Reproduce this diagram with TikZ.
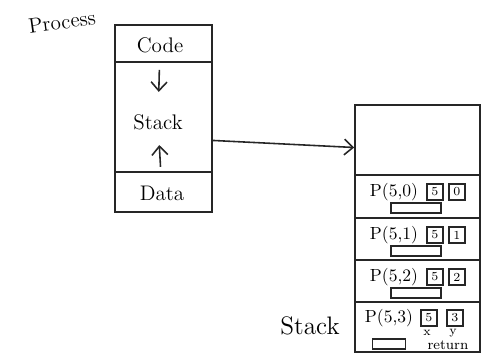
\documentclass[tikz,border=0pt]{standalone}
\usetikzlibrary{arrows.meta}

\begin{document}
\begin{tikzpicture}[x=0.02cm,y=-0.02cm,line width=0.9pt,draw=black!85,
  arr/.style={-{Straight Barb[length=5pt,width=9pt]}},
  cell/.style={draw,minimum size=9pt,inner sep=0pt,font=\scriptsize},
  slot/.style={draw,minimum width=1cm,minimum height=0.2cm,inner sep=0pt}]
\useasboundingbox (0,0) rectangle (485,361);

% process memory
\node[draw,minimum width=1.94cm,minimum height=3.74cm,inner sep=0pt] (proc) at (163.5,118.5) {};
\draw (115,62) -- (212,62);
\draw (115,172) -- (212,172);
\node[rotate=8,font=\large] (ptitle) at (62,22) {Process};
\node[font=\large] (code) at (160,45) {Code};
\node[font=\large] (stk) at (158,122) {Stack};
\node[font=\large] (data) at (162,193) {Data};
\draw[arr,shorten <=6pt,shorten >=9pt] (code) -- (stk);
\draw[arr,shorten <=7pt,shorten >=5pt] (data) -- (stk);

% the stack itself
\node[draw,minimum width=2.5cm,minimum height=4.94cm,inner sep=0pt] (stack) at (417.5,228.5) {};
\node[font=\Large] (slabel) at (310,326) {Stack};
\draw[arr] (proc.-24) -- (stack.128);

% frames P(5,0) .. P(5,2)
\foreach \i/\y in {0/175,1/218,2/260}{
  \draw (355,\y) -- (480,\y);
  \node (lbl\i) at (394,\y+17) {P(5,\i)};
  \node[cell] (n\i) at (435,\y+17) {5};
  \node[cell] (k\i) at (457,\y+17) {\i};
  \node[slot] (ret\i) at (416,\y+33) {};
}

% last frame
\draw (355,302) -- (480,302);
\node (lbl3) at (389,318) {P(5,3)};
\node[cell] (n3) at (429,318) {5};
\node[cell] (k3) at (455,318) {3};
\node[font=\scriptsize,inner sep=0pt] (xv) at (427,333) {x};
\node[font=\scriptsize,inner sep=0pt] (yv) at (453,333) {y};
\node[slot,minimum width=0.66cm] (ret3) at (389,344) {};
\node[font=\footnotesize,inner sep=0pt] (rtxt) at (448,345) {return};

\end{tikzpicture}
\end{document}
